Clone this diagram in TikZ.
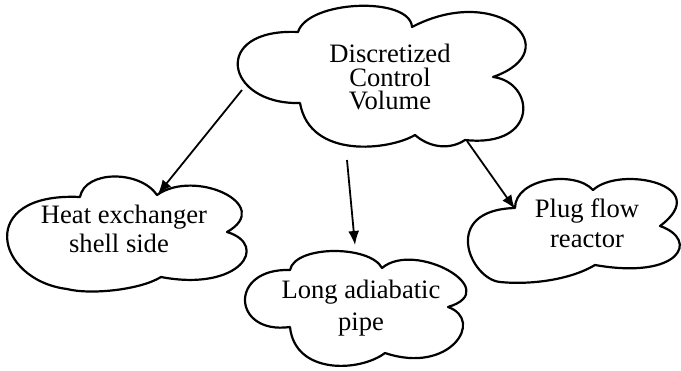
\documentclass[tikz,border=0pt]{standalone}
\usepackage{fontspec}
\setmainfont{Liberation Serif}
\usetikzlibrary{arrows.meta}
\begin{document}
\begin{tikzpicture}[x=0.5pt,y=-0.5pt,
  cloudline/.style={line width=1.1pt, line join=round},
  conn/.style={line width=0.9pt, -{Latex[length=7pt,width=5.5pt]}},
  lbl/.style={inner sep=0pt, align=center}]
\useasboundingbox[fill=white] (0,0) rectangle (681,370);

% top cloud
\draw[cloudline] (298,32)
  .. controls (308,0) and (410,-4) .. (412,27)
  .. controls (498,-18) and (570,50) .. (493,77)
  .. controls (535,82) and (540,148) .. (465,140)
  .. controls (450,150) and (430,148) .. (415,135)
  .. controls (390,150) and (310,160) .. (300,103)
  .. controls (225,105) and (210,28) .. (298,32) -- cycle;

% heat exchanger cloud
\draw[cloudline] (80,197)
  .. controls (85,170) and (140,170) .. (157,195)
  .. controls (195,168) and (275,205) .. (227,232)
  .. controls (270,245) and (240,292) .. (161,277)
  .. controls (140,290) and (90,295) .. (67,289)
  .. controls (-5,280) and (-25,192) .. (80,197) -- cycle;

% pipe cloud
\draw[cloudline] (290,270)
  .. controls (295,245) and (370,245) .. (382,268)
  .. controls (415,240) and (505,290) .. (448,307)
  .. controls (485,320) and (450,375) .. (385,353)
  .. controls (360,372) and (295,375) .. (290,327)
  .. controls (232,335) and (228,268) .. (290,270) -- cycle;

% plug flow cloud
\draw[cloudline] (515,208)
  .. controls (515,178) and (575,170) .. (593,190)
  .. controls (620,165) and (715,185) .. (660,226)
  .. controls (700,240) and (680,280) .. (595,265)
  .. controls (570,280) and (530,285) .. (500,282)
  .. controls (470,279) and (440,210) .. (515,208) -- cycle;

\node[lbl, font=\fontsize{13.3}{11.8}\selectfont] (dcv) at (390,77) {Discretized\\Control\\Volume};
\node[lbl, font=\fontsize{13.3}{14.5}\selectfont] (hx) at (124,229) {Heat exchanger\\shell side\hspace*{5pt}};
\node[lbl, font=\fontsize{13.3}{16}\selectfont] (lap) at (361,308) {Long adiabatic\\pipe};
\node[lbl, font=\fontsize{13.3}{15}\selectfont] (pfr) at (587,223) {Plug flow\\reactor};

\coordinate (s1) at (242,90);
\coordinate (t1) at (158,194);
\coordinate (s2) at (347,160);
\coordinate (t2) at (355,245);
\coordinate (s3) at (467,141);
\coordinate (t3) at (515,209);
\draw[conn] (s1) -- (t1);
\draw[conn] (s2) -- (t2);
\draw[conn] (s3) -- (t3);
\end{tikzpicture}
\end{document}
